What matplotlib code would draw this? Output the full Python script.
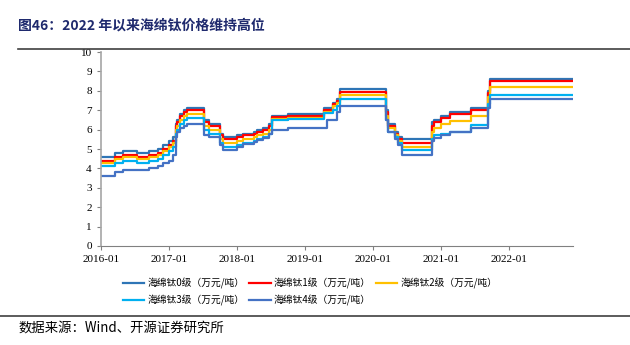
import pandas as pd
import matplotlib.pyplot as plt
import matplotlib.dates as mdates

plt.rcParams['font.family'] = ['Noto Sans CJK SC', 'DejaVu Sans']

# step change dates and prices for each grade (10k yuan / ton)
dates = ['2016-01-01', '2016-03-15', '2016-05-01', '2016-07-15', '2016-09-15',
         '2016-11-01', '2016-12-01', '2017-01-01', '2017-01-20', '2017-02-05',
         '2017-02-15', '2017-03-01', '2017-03-20', '2017-04-10', '2017-07-10',
         '2017-08-01', '2017-10-01', '2017-10-20', '2018-01-01', '2018-02-01',
         '2018-04-01', '2018-04-20', '2018-05-20', '2018-06-20', '2018-07-10',
         '2018-10-01', '2019-04-10', '2019-05-01', '2019-06-01', '2019-06-20',
         '2019-07-05', '2020-03-10', '2020-03-20', '2020-04-25', '2020-05-15',
         '2020-06-05', '2020-11-10', '2020-11-25', '2021-01-01', '2021-02-15',
         '2021-06-10', '2021-09-10', '2021-09-20', '2022-12-10']
grade0 = [4.6, 4.8, 4.9, 4.8, 4.9, 5.0, 5.2, 5.4, 5.6, 6.3, 6.5, 6.8, 7.0, 7.1, 6.5,
          6.3, 5.8, 5.6, 5.7, 5.8, 5.9, 6.0, 6.1, 6.3, 6.7, 6.8, 7.1, 7.1, 7.35, 7.6,
          8.1, 7.0, 6.3, 5.9, 5.6, 5.5, 6.4, 6.5, 6.7, 6.9, 7.1, 8.0, 8.6, 8.6]
grade1 = [4.4, 4.6, 4.7, 4.6, 4.7, 4.8, 5.0, 5.2, 5.4, 6.2, 6.4, 6.7, 6.9, 7.0, 6.4,
          6.2, 5.7, 5.5, 5.6, 5.7, 5.8, 5.9, 6.0, 6.2, 6.65, 6.7, 7.0, 7.0, 7.3, 7.5,
          7.95, 6.9, 6.2, 5.8, 5.5, 5.3, 6.2, 6.4, 6.6, 6.8, 7.0, 7.9, 8.5, 8.5]
grade2 = [4.3, 4.5, 4.6, 4.5, 4.6, 4.7, 4.9, 5.1, 5.3, 6.0, 6.2, 6.5, 6.7, 6.8, 6.2,
          6.0, 5.5, 5.3, 5.4, 5.5, 5.6, 5.7, 5.8, 6.0, 6.55, 6.6, 6.9, 6.9, 7.2, 7.4,
          7.8, 6.7, 6.1, 5.7, 5.4, 5.1, 5.9, 6.1, 6.3, 6.45, 6.7, 7.7, 8.2, 8.2]
grade3 = [4.1, 4.3, 4.4, 4.3, 4.4, 4.5, 4.7, 4.9, 5.1, 5.8, 6.0, 6.3, 6.5, 6.6, 6.0,
          5.8, 5.3, 5.1, 5.2, 5.3, 5.4, 5.5, 5.6, 5.8, 6.5, 6.55, 6.85, 6.85, 7.0, 7.2,
          7.6, 6.5, 5.9, 5.6, 5.3, 4.95, 5.5, 5.7, 5.8, 5.9, 6.25, 7.3, 7.8, 7.8]
grade4 = [3.6, 3.8, 3.9, 3.9, 4.0, 4.1, 4.3, 4.4, 4.7, 5.6, 5.9, 6.1, 6.2, 6.3, 5.7,
          5.6, 5.2, 4.95, 5.1, 5.25, 5.35, 5.45, 5.55, 5.8, 6.0, 6.1, 6.1, 6.5, 6.5, 6.9,
          7.2, 6.5, 5.9, 5.5, 5.2, 4.7, 5.4, 5.55, 5.7, 5.9, 6.1, 7.1, 7.6, 7.6]

names = ['海绵钛0级（万元/吨）', '海绵钛1级（万元/吨）', '海绵钛2级（万元/吨）',
         '海绵钛3级（万元/吨）', '海绵钛4级（万元/吨）']
colors = ['#2E75B6', '#FF0000', '#FFC000', '#00B0F0', '#4472C4']

x = pd.to_datetime(dates)

fig = plt.figure(figsize=(6.3, 3.45), dpi=100)
ax = fig.add_axes([0.160, 0.287, 0.750, 0.562])

lines = []
for vals, name, c in zip([grade0, grade1, grade2, grade3, grade4], names, colors):
    ln, = ax.step(x, vals, where='post', color=c, lw=1.6, label=name)
    lines.append(ln)

ax.set_ylim(0, 10)
ax.set_yticks(range(0, 11))
ax.set_xlim(pd.Timestamp('2016-01-01'), pd.Timestamp('2022-12-10'))
ax.xaxis.set_major_locator(mdates.YearLocator())
ax.xaxis.set_major_formatter(mdates.DateFormatter('%Y-%m'))
for lab in ax.get_xticklabels() + ax.get_yticklabels():
    lab.set_fontfamily('Liberation Serif')
    lab.set_fontsize(8)

for s in ['top', 'right']:
    ax.spines[s].set_visible(False)
ax.spines['left'].set_color('#A6A6A6')
ax.spines['left'].set_linewidth(1.2)
ax.spines['bottom'].set_color('#808080')
ax.tick_params(axis='both', colors='#808080', length=3, labelcolor='black')

# row-wise legend order: 0 1 2 / 3 4
order = [0, 3, 1, 4, 2]
ax.legend([lines[i] for i in order], [names[i] for i in order],
          loc='upper center', bbox_to_anchor=(0.443, -0.12), ncol=3, frameon=False,
          fontsize=7, handlelength=2.2, columnspacing=0.5, handletextpad=0.35,
          labelspacing=0.6)

# title, rules and source
fig.text(0.029, 0.925, '图46：2022 年以来海绵钛价格维持高位', fontsize=10,
         fontweight='bold', color='#1F2A6E', va='center')
fig.add_artist(plt.Line2D([0.029, 1.0], [0.858, 0.858], color='#404040', lw=1.2))
fig.add_artist(plt.Line2D([0.0, 1.0], [0.084, 0.084], color='#404040', lw=1.2))
fig.text(0.029, 0.05, '数据来源：Wind、开源证券研究所', fontsize=9.6, va='center')

fig.savefig('out.png', dpi=100)
